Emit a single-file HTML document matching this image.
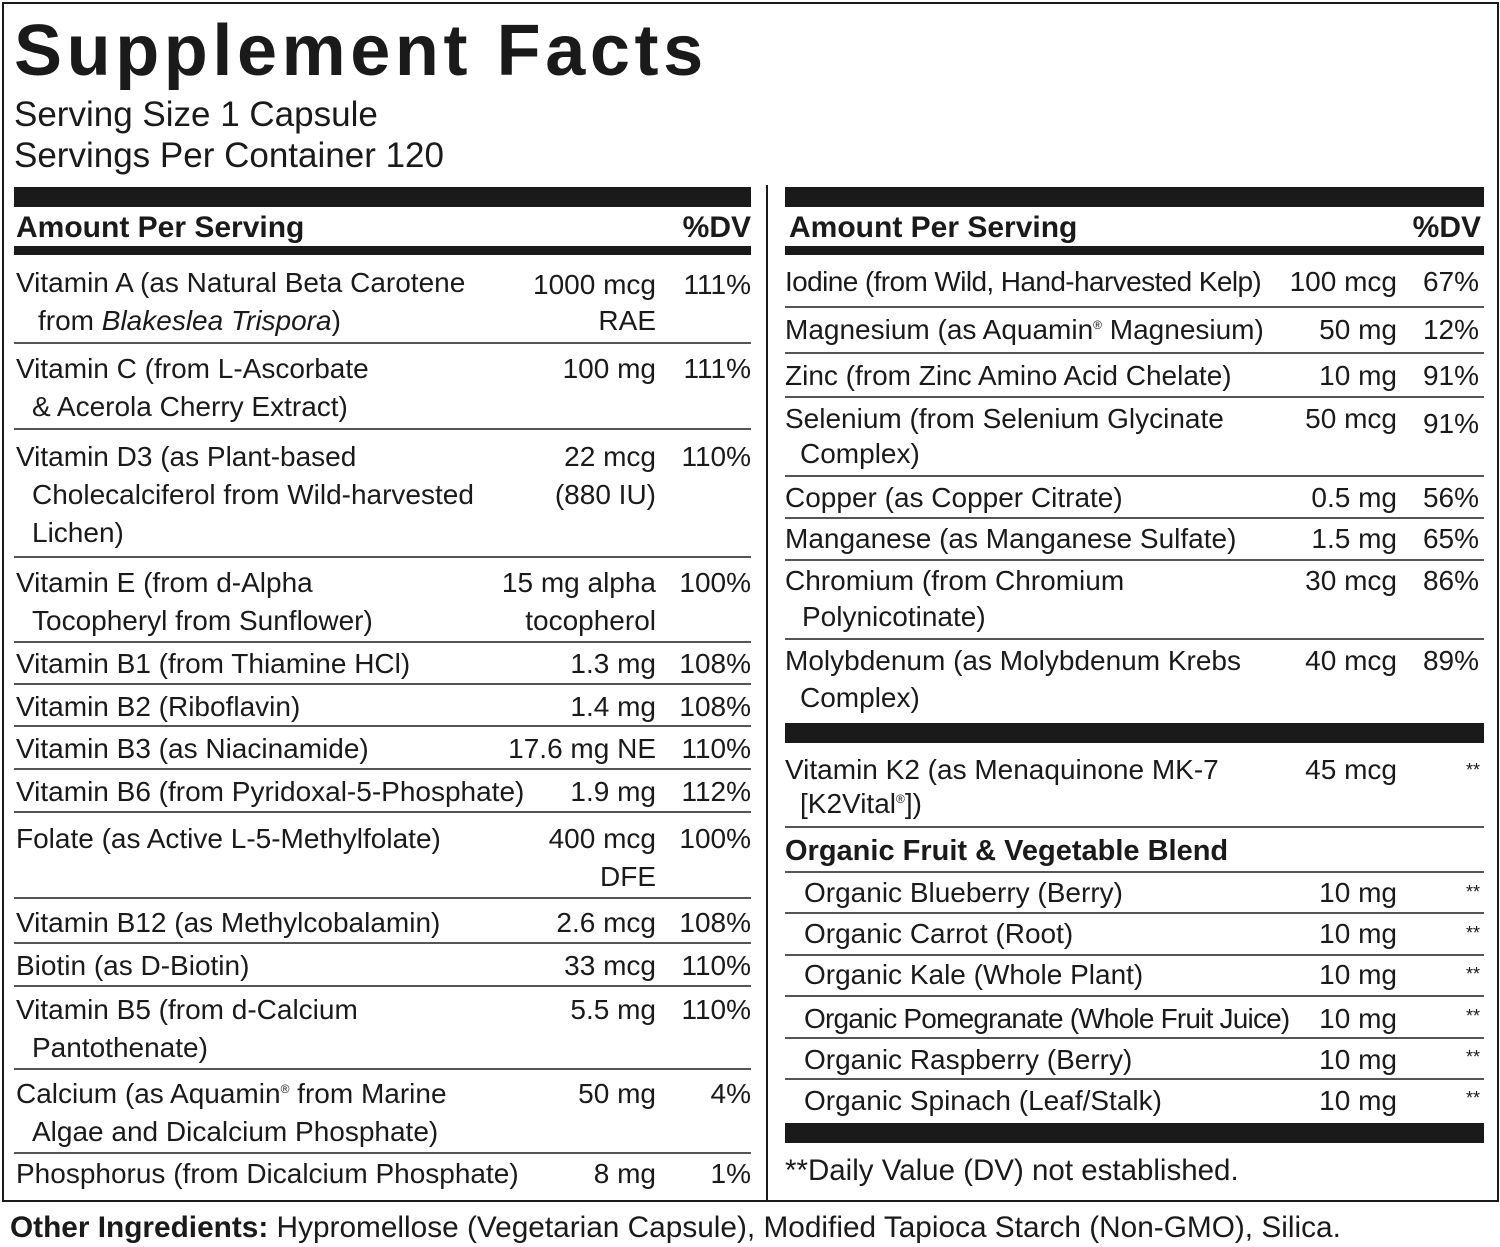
<!DOCTYPE html>
<html><head><meta charset="utf-8"><style>
body{margin:0;width:1500px;height:1247px;background:#fff;position:relative;overflow:hidden;font-family:"Liberation Sans",sans-serif;color:#1a1a1a}
.t{position:absolute;font-size:28px;line-height:38px;white-space:nowrap;letter-spacing:0}
.r{text-align:right}
.b{font-weight:bold}
sup{font-size:12px;line-height:0;vertical-align:10px}
.bar{position:absolute;background:#1a1a1a}
.ln{position:absolute;height:1.5px;background:#555}
</style></head><body>
<div style="position:absolute;left:2px;top:2px;width:1493px;height:1196px;border:2px solid #1a1a1a"></div>
<div class="bar" style="left:766px;top:185px;width:2px;height:1015px"></div>
<div class="t b" style="left:14px;top:9px;font-size:72px;line-height:84px;font-weight:900;letter-spacing:4.6px">Supplement Facts</div>
<div class="t" style="left:14px;top:96px;font-size:35px">Serving Size 1 Capsule</div>
<div class="t" style="left:14px;top:137px;font-size:35px">Servings Per Container 120</div>

<div class="bar" style="left:14px;top:187px;width:737px;height:20px"></div>
<div class="bar" style="left:14px;top:246px;width:737px;height:9px"></div>
<div class="t b" style="left:16px;top:209px;font-size:30px">Amount Per Serving</div>
<div class="t b r" style="left:600px;width:151px;top:209px;font-size:30px">%DV</div>

<div class="bar" style="left:785px;top:187px;width:699px;height:20px"></div>
<div class="bar" style="left:785px;top:246px;width:699px;height:9px"></div>
<div class="t b" style="left:789px;top:209px;font-size:30px">Amount Per Serving</div>
<div class="t b r" style="left:1330px;width:151px;top:209px;font-size:30px">%DV</div>

<!-- left lines -->
<div class="ln" style="left:14px;width:737px;top:342px"></div>
<div class="ln" style="left:14px;width:737px;top:428px"></div>
<div class="ln" style="left:14px;width:737px;top:556px"></div>
<div class="ln" style="left:14px;width:737px;top:641px"></div>
<div class="ln" style="left:14px;width:737px;top:683px"></div>
<div class="ln" style="left:14px;width:737px;top:725px"></div>
<div class="ln" style="left:14px;width:737px;top:768px"></div>
<div class="ln" style="left:14px;width:737px;top:811px"></div>
<div class="ln" style="left:14px;width:737px;top:897px"></div>
<div class="ln" style="left:14px;width:737px;top:942px"></div>
<div class="ln" style="left:14px;width:737px;top:985px"></div>
<div class="ln" style="left:14px;width:737px;top:1068px"></div>
<div class="ln" style="left:14px;width:737px;top:1152px"></div>

<!-- left rows -->
<div class="t" style="left:16px;top:264px">Vitamin A (as Natural Beta Carotene</div>
<div class="t" style="left:38px;top:302px">from <i>Blakeslea Trispora</i>)</div>
<div class="t r" style="left:456px;width:200px;top:266px">1000 mcg</div>
<div class="t r" style="left:456px;width:200px;top:302px">RAE</div>
<div class="t r" style="left:651px;width:100px;top:266px">111%</div>

<div class="t" style="left:16px;top:350px">Vitamin C (from L-Ascorbate</div>
<div class="t" style="left:32px;top:388px">&amp; Acerola Cherry Extract)</div>
<div class="t r" style="left:456px;width:200px;top:350px">100 mg</div>
<div class="t r" style="left:651px;width:100px;top:350px">111%</div>

<div class="t" style="left:16px;top:438px">Vitamin D3 (as Plant-based</div>
<div class="t" style="left:32px;top:476px">Cholecalciferol from Wild-harvested</div>
<div class="t" style="left:32px;top:514px">Lichen)</div>
<div class="t r" style="left:456px;width:200px;top:438px">22 mcg</div>
<div class="t r" style="left:456px;width:200px;top:476px">(880 IU)</div>
<div class="t r" style="left:651px;width:100px;top:438px">110%</div>

<div class="t" style="left:16px;top:564px">Vitamin E (from d-Alpha</div>
<div class="t" style="left:32px;top:602px">Tocopheryl from Sunflower)</div>
<div class="t r" style="left:456px;width:200px;top:564px">15 mg alpha</div>
<div class="t r" style="left:456px;width:200px;top:602px">tocopherol</div>
<div class="t r" style="left:651px;width:100px;top:564px">100%</div>

<div class="t" style="left:16px;top:645px">Vitamin B1 (from Thiamine HCl)</div>
<div class="t r" style="left:456px;width:200px;top:645px">1.3 mg</div>
<div class="t r" style="left:651px;width:100px;top:645px">108%</div>
<div class="t" style="left:16px;top:688px">Vitamin B2 (Riboflavin)</div>
<div class="t r" style="left:456px;width:200px;top:688px">1.4 mg</div>
<div class="t r" style="left:651px;width:100px;top:688px">108%</div>
<div class="t" style="left:16px;top:730px">Vitamin B3 (as Niacinamide)</div>
<div class="t r" style="left:456px;width:200px;top:730px">17.6 mg NE</div>
<div class="t r" style="left:651px;width:100px;top:730px">110%</div>
<div class="t" style="left:16px;top:773px">Vitamin B6 (from Pyridoxal-5-Phosphate)</div>
<div class="t r" style="left:456px;width:200px;top:773px">1.9 mg</div>
<div class="t r" style="left:651px;width:100px;top:773px">112%</div>

<div class="t" style="left:16px;top:820px">Folate (as Active L-5-Methylfolate)</div>
<div class="t r" style="left:456px;width:200px;top:820px">400 mcg</div>
<div class="t r" style="left:456px;width:200px;top:858px">DFE</div>
<div class="t r" style="left:651px;width:100px;top:820px">100%</div>

<div class="t" style="left:16px;top:904px">Vitamin B12 (as Methylcobalamin)</div>
<div class="t r" style="left:456px;width:200px;top:904px">2.6 mcg</div>
<div class="t r" style="left:651px;width:100px;top:904px">108%</div>
<div class="t" style="left:16px;top:947px">Biotin (as D-Biotin)</div>
<div class="t r" style="left:456px;width:200px;top:947px">33 mcg</div>
<div class="t r" style="left:651px;width:100px;top:947px">110%</div>

<div class="t" style="left:16px;top:991px">Vitamin B5 (from d-Calcium</div>
<div class="t" style="left:32px;top:1029px">Pantothenate)</div>
<div class="t r" style="left:456px;width:200px;top:991px">5.5 mg</div>
<div class="t r" style="left:651px;width:100px;top:991px">110%</div>

<div class="t" style="left:16px;top:1075px">Calcium (as Aquamin<sup>®</sup> from Marine</div>
<div class="t" style="left:32px;top:1113px">Algae and Dicalcium Phosphate)</div>
<div class="t r" style="left:456px;width:200px;top:1075px">50 mg</div>
<div class="t r" style="left:651px;width:100px;top:1075px">4%</div>

<div class="t" style="left:16px;top:1155px">Phosphorus (from Dicalcium Phosphate)</div>
<div class="t r" style="left:456px;width:200px;top:1155px">8 mg</div>
<div class="t r" style="left:651px;width:100px;top:1155px">1%</div>

<!-- right lines -->
<div class="ln" style="left:785px;width:699px;top:306px"></div>
<div class="ln" style="left:785px;width:699px;top:352px"></div>
<div class="ln" style="left:785px;width:699px;top:396px"></div>
<div class="ln" style="left:785px;width:699px;top:475px"></div>
<div class="ln" style="left:785px;width:699px;top:517px"></div>
<div class="ln" style="left:785px;width:699px;top:559px"></div>
<div class="ln" style="left:785px;width:699px;top:638px"></div>
<div class="bar" style="left:785px;top:723px;width:699px;height:20px"></div>
<div class="ln" style="left:785px;width:699px;top:826px"></div>
<div class="ln" style="left:785px;width:699px;top:871px"></div>
<div class="ln" style="left:785px;width:699px;top:912px"></div>
<div class="ln" style="left:785px;width:699px;top:954px"></div>
<div class="ln" style="left:785px;width:699px;top:995px"></div>
<div class="ln" style="left:785px;width:699px;top:1037px"></div>
<div class="ln" style="left:785px;width:699px;top:1078px"></div>
<div class="bar" style="left:785px;top:1123px;width:699px;height:20px"></div>

<!-- right rows -->
<div class="t" style="left:785px;top:263px;letter-spacing:-0.6px">Iodine (from Wild, Hand-harvested Kelp)</div>
<div class="t r" style="left:1197px;width:200px;top:263px">100 mcg</div>
<div class="t r" style="left:1379px;width:100px;top:263px">67%</div>
<div class="t" style="left:785px;top:311px">Magnesium (as Aquamin<sup>®</sup> Magnesium)</div>
<div class="t r" style="left:1197px;width:200px;top:311px">50 mg</div>
<div class="t r" style="left:1379px;width:100px;top:311px">12%</div>
<div class="t" style="left:785px;top:357px">Zinc (from Zinc Amino Acid Chelate)</div>
<div class="t r" style="left:1197px;width:200px;top:357px">10 mg</div>
<div class="t r" style="left:1379px;width:100px;top:357px">91%</div>
<div class="t" style="left:785px;top:400px">Selenium (from Selenium Glycinate</div>
<div class="t" style="left:800px;top:435px">Complex)</div>
<div class="t r" style="left:1197px;width:200px;top:400px">50 mcg</div>
<div class="t r" style="left:1379px;width:100px;top:405px">91%</div>
<div class="t" style="left:785px;top:479px">Copper (as Copper Citrate)</div>
<div class="t r" style="left:1197px;width:200px;top:479px">0.5 mg</div>
<div class="t r" style="left:1379px;width:100px;top:479px">56%</div>
<div class="t" style="left:785px;top:520px">Manganese (as Manganese Sulfate)</div>
<div class="t r" style="left:1197px;width:200px;top:520px">1.5 mg</div>
<div class="t r" style="left:1379px;width:100px;top:520px">65%</div>
<div class="t" style="left:785px;top:562px">Chromium (from Chromium</div>
<div class="t" style="left:802px;top:598px">Polynicotinate)</div>
<div class="t r" style="left:1197px;width:200px;top:562px">30 mcg</div>
<div class="t r" style="left:1379px;width:100px;top:562px">86%</div>
<div class="t" style="left:785px;top:642px">Molybdenum (as Molybdenum Krebs</div>
<div class="t" style="left:800px;top:679px">Complex)</div>
<div class="t r" style="left:1197px;width:200px;top:642px">40 mcg</div>
<div class="t r" style="left:1379px;width:100px;top:642px">89%</div>

<div class="t" style="left:785px;top:751px">Vitamin K2 (as Menaquinone MK-7</div>
<div class="t" style="left:800px;top:785px">[K2Vital<sup>®</sup>])</div>
<div class="t r" style="left:1197px;width:200px;top:751px">45 mcg</div>
<div class="t r" style="left:1379px;width:101px;top:751px;font-size:18px">**</div>

<div class="t b" style="left:785px;top:832px;font-size:29px">Organic Fruit &amp; Vegetable Blend</div>
<div class="t" style="left:804px;top:874px">Organic Blueberry (Berry)</div>
<div class="t" style="left:804px;top:915px">Organic Carrot (Root)</div>
<div class="t" style="left:804px;top:956px">Organic Kale (Whole Plant)</div>
<div class="t" style="left:804px;top:1000px;letter-spacing:-0.8px">Organic Pomegranate (Whole Fruit Juice)</div>
<div class="t" style="left:804px;top:1041px">Organic Raspberry (Berry)</div>
<div class="t" style="left:804px;top:1082px">Organic  Spinach (Leaf/Stalk)</div>
<div class="t r" style="left:1197px;width:200px;top:874px">10 mg</div>
<div class="t r" style="left:1197px;width:200px;top:915px">10 mg</div>
<div class="t r" style="left:1197px;width:200px;top:956px">10 mg</div>
<div class="t r" style="left:1197px;width:200px;top:1000px">10 mg</div>
<div class="t r" style="left:1197px;width:200px;top:1041px">10 mg</div>
<div class="t r" style="left:1197px;width:200px;top:1082px">10 mg</div>
<div class="t r" style="left:1379px;width:101px;top:873px;font-size:18px">**</div>
<div class="t r" style="left:1379px;width:101px;top:914px;font-size:18px">**</div>
<div class="t r" style="left:1379px;width:101px;top:955px;font-size:18px">**</div>
<div class="t r" style="left:1379px;width:101px;top:997px;font-size:18px">**</div>
<div class="t r" style="left:1379px;width:101px;top:1038px;font-size:18px">**</div>
<div class="t r" style="left:1379px;width:101px;top:1079px;font-size:18px">**</div>

<div class="t" style="left:785px;top:1152px;font-size:29.5px">**Daily Value (DV) not established.</div>

<div class="t" style="left:10px;top:1209px;font-size:29.8px"><b>Other Ingredients:</b> Hypromellose (Vegetarian Capsule), Modified Tapioca Starch (Non-GMO), Silica.</div>
</body></html>
